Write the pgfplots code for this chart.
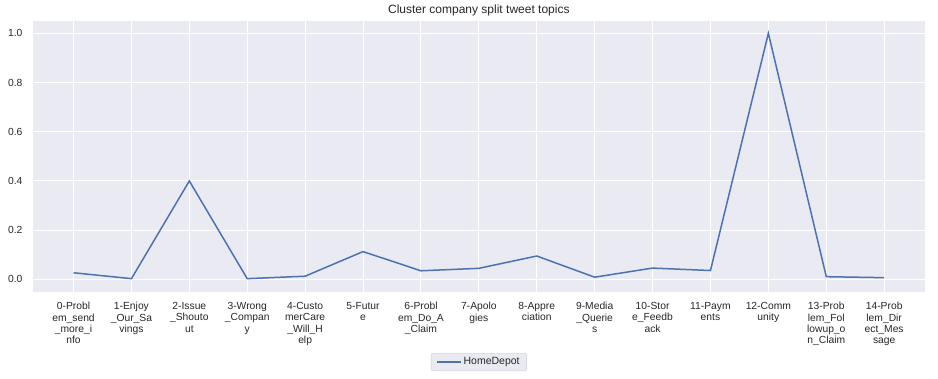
\documentclass[border=0pt]{standalone}
\usepackage{pgfplots}
\pgfplotsset{compat=1.18}
\usepackage{fontspec}
\setmainfont{Liberation Sans}
\definecolor{sbbg}{HTML}{EAEAF2}
\definecolor{sbline}{HTML}{4C72B0}
\definecolor{sbtext}{HTML}{262626}
\definecolor{sbedge}{HTML}{CCCCCC}
\begin{document}
\begin{tikzpicture}
\begin{axis}[
  name=ax,
  at={(0,0)}, anchor=south west,
  scale only axis,
  width=891.7pt, height=270.7pt,
  xmin=-0.7, xmax=14.7,
  ymin=-0.05, ymax=1.05,
  axis background/.style={fill=sbbg},
  axis line style={draw=none},
  major tick length=0pt,
  grid=major,
  major grid style={white, line width=1pt},
  xtick={0,...,14},
  ytick={0,0.2,0.4,0.6,0.8,1.0},
  yticklabel style={/pgf/number format/fixed, /pgf/number format/fixed zerofill, /pgf/number format/precision=1, xshift=-7pt},
  /pgf/number format/assume math mode=true,
  ticklabel style={font=\fontsize{10.3}{11.4}\selectfont, text=sbtext},
  xticklabel style={align=center, yshift=-7pt},
  xticklabels={
    {0-Probl\\em\_send\\\_more\_i\\nfo},
    {1-Enjoy\\\_Our\_Sa\\vings},
    {2-Issue\\\_Shouto\\ut},
    {3-Wrong\\\_Compan\\y},
    {4-Custo\\merCare\\\_Will\_H\\elp},
    {5-Futur\\e},
    {6-Probl\\em\_Do\_A\\\_Claim},
    {7-Apolo\\gies},
    {8-Appre\\ciation},
    {9-Media\\\_Querie\\s},
    {10-Stor\\e\_Feedb\\ack},
    {11-Paym\\ents},
    {12-Comm\\unity},
    {13-Prob\\lem\_Fol\\lowup\_o\\n\_Claim},
    {14-Prob\\lem\_Dir\\ect\_Mes\\sage}
  },
  title={Cluster company split tweet topics},
  title style={font=\fontsize{12}{14}\selectfont, text=sbtext, yshift=-5pt},
  legend style={at={(0.5,-0.26)}, anchor=center, fill=sbbg, draw=sbedge, rounded corners=2pt,
    font=\fontsize{10.5}{12}\selectfont, text=sbtext, inner xsep=5pt, inner ysep=2.5pt},
  legend image code/.code={\draw[#1] (0pt,0pt) -- (24pt,0pt);},
]
\addplot[sbline, line width=1.5pt] coordinates {
  (0,0.027) (1,0.003) (2,0.400) (3,0.003) (4,0.013) (5,0.113) (6,0.035)
  (7,0.045) (8,0.095) (9,0.009) (10,0.046) (11,0.036) (12,1.000) (13,0.011) (14,0.007)
};
\addlegendentry{HomeDepot}
\end{axis}
\pgfresetboundingbox
\path (-33pt,-86.3pt) rectangle (905pt,291.7pt);
\end{tikzpicture}
\end{document}
